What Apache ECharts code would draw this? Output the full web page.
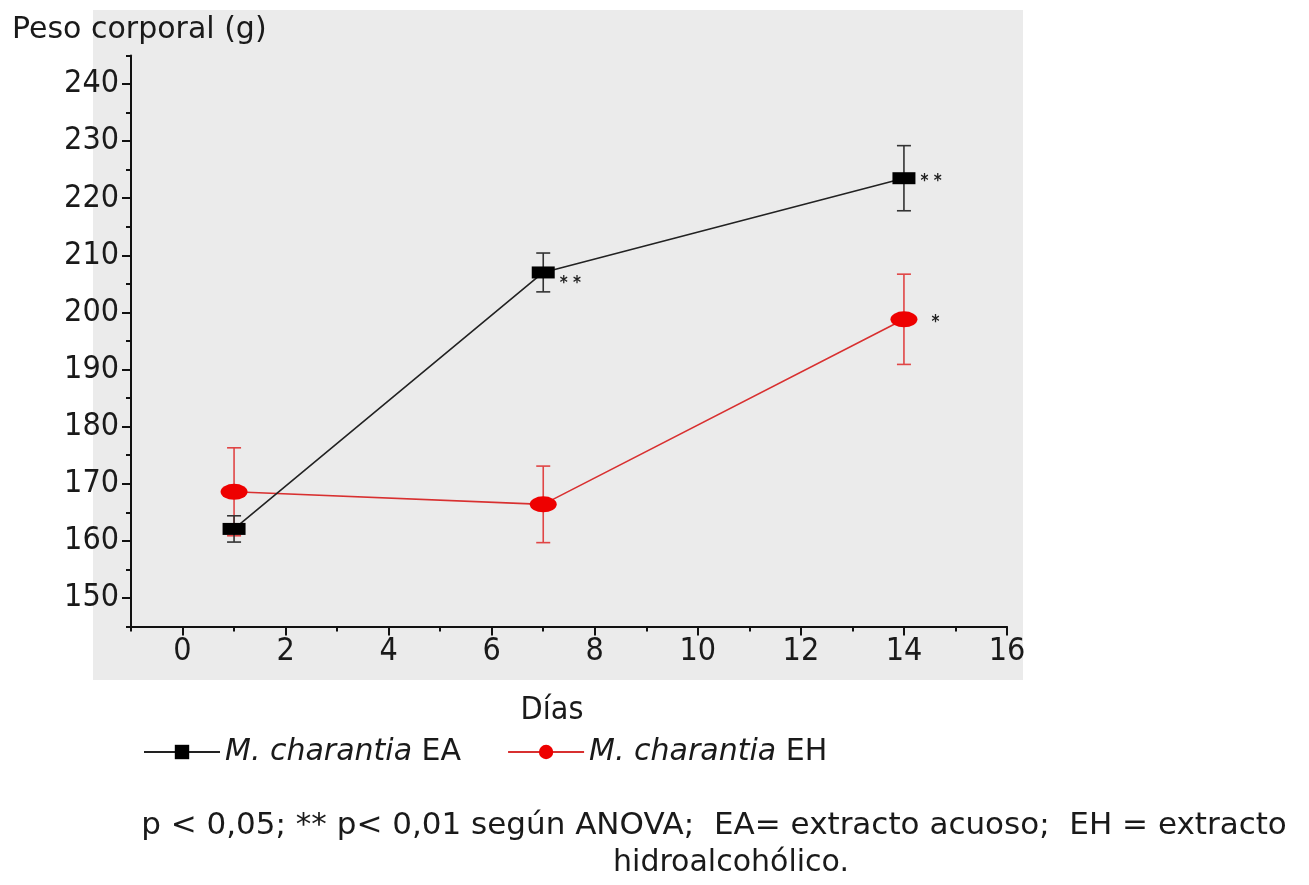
<!DOCTYPE html>
<html>
<head>
<meta charset="utf-8">
<script src="https://cdn.jsdelivr.net/npm/echarts@6/dist/echarts.min.js"></script>
<style>
html,body{margin:0;padding:0;background:#fff;}
#c{width:1309px;height:885px;}
</style>
</head>
<body>
<div id="c"></div>
<script>
// ---- data ----
const days = [1, 7, 14];
const eaMean = [162.1, 207.0, 223.5];
const eaErr = [2.3, 3.4, 5.7];
const ehMean = [168.6, 166.4, 198.8];
const ehErr = [7.7, 6.7, 7.9];
const eaSig = ['', '* *', '* *'];
const ehSig = ['', '', '*'];
const xMajor = [0, 2, 4, 6, 8, 10, 12, 14, 16];
const xMinor = [-1, 1, 3, 5, 7, 9, 11, 13, 15];
const yMajor = [150, 160, 170, 180, 190, 200, 210, 220, 230, 240];
const yMinor = [145, 155, 165, 175, 185, 195, 205, 215, 225, 235, 245];
const nameEA = 'M. charantia EA';
const nameEH = 'M. charantia EH';
const yTitle = 'Peso corporal (g)';
const xTitle = 'Días';
const note1 = 'p < 0,05; ** p< 0,01 según ANOVA;  EA= extracto acuoso;  EH = extracto';
const note2 = 'hidroalcohólico.';

const FONT = '"DejaVu Sans Condensed", "DejaVu Sans", sans-serif';
const WIDE = '"DejaVu Sans", sans-serif';
const chart = echarts.init(document.getElementById('c'), null, {renderer: 'canvas'});

function errSeries(means, errs, color) {
  return {
    type: 'custom',
    xAxisIndex: 0, yAxisIndex: 0,
    data: days.map((d, i) => [d, means[i] - errs[i], means[i] + errs[i]]),
    renderItem: function (params, api) {
      const lo = api.coord([api.value(0), api.value(1)]);
      const hi = api.coord([api.value(0), api.value(2)]);
      const hw = 7;
      const st = {stroke: color, lineWidth: 1.6};
      return {type: 'group', children: [
        {type: 'line', shape: {x1: lo[0], y1: lo[1], x2: hi[0], y2: hi[1]}, style: st},
        {type: 'line', shape: {x1: lo[0] - hw, y1: lo[1], x2: lo[0] + hw, y2: lo[1]}, style: st},
        {type: 'line', shape: {x1: hi[0] - hw, y1: hi[1], x2: hi[0] + hw, y2: hi[1]}, style: st}
      ]};
    },
    silent: true,
    z: 2
  };
}

const eaLabelOffsets = [[0, 0], [1, 11], [1, 3]];
const ehLabelOffsets = [[0, 0], [0, 0], [8, 3]];

function lineData(means, sigs, offs) {
  return days.map((d, i) => ({
    value: [d, means[i]],
    label: {show: !!sigs[i], formatter: sigs[i], offset: offs[i]}
  }));
}

const option = {
  animation: false,
  backgroundColor: '#ffffff',
  graphic: [
    {type: 'rect', z: -10, shape: {x: 93, y: 10, width: 930, height: 670}, style: {fill: '#ebebeb'}},
    {type: 'text', x: 12, y: 30, style: {text: yTitle, font: '30px ' + WIDE, fill: '#1a1a1a', textVerticalAlign: 'middle'}},
    {type: 'text', x: 552, y: 711, style: {text: xTitle, font: '32px ' + FONT, fill: '#1a1a1a', textAlign: 'center', textVerticalAlign: 'middle'}},
    {type: 'text', x: 714, y: 826, style: {text: note1, font: '31px ' + WIDE, fill: '#1a1a1a', textAlign: 'center', textVerticalAlign: 'middle'}},
    {type: 'text', x: 731, y: 863, style: {text: note2, font: '30px ' + WIDE, fill: '#1a1a1a', textAlign: 'center', textVerticalAlign: 'middle'}}
  ],
  grid: {left: 131, right: 302, top: 55.4, bottom: 258.4, containLabel: false},
  legend: {
    left: 138, top: 732,
    itemWidth: 76, itemHeight: 18, itemGap: 46,
    data: [nameEA, nameEH],
    formatter: function (n) { const p = n.split(' '); return '{i|' + p[0] + ' ' + p[1] + '} ' + p[2]; },
    textStyle: {
      fontFamily: WIDE, fontSize: 30, color: '#1a1a1a',
      rich: {i: {fontFamily: WIDE, fontSize: 30, fontStyle: 'italic', color: '#1a1a1a'}}
    }
  },
  xAxis: [
    {
      type: 'value', min: -1, max: 16,
      axisLine: {show: true, onZero: false, lineStyle: {color: '#111', width: 2}},
      axisTick: {show: true, inside: false, length: 9, customValues: xMajor, lineStyle: {color: '#111', width: 2}},
      axisLabel: {show: true, customValues: xMajor, margin: 9, fontFamily: FONT, fontSize: 32, color: '#1a1a1a'},
      splitLine: {show: false}
    },
    {
      type: 'value', min: -1, max: 16, position: 'bottom',
      axisLine: {show: false, onZero: false},
      axisTick: {show: true, length: 5, customValues: xMinor, lineStyle: {color: '#111', width: 2}},
      axisLabel: {show: false},
      splitLine: {show: false}
    }
  ],
  yAxis: [
    {
      type: 'value', min: 145, max: 245,
      axisLine: {show: true, onZero: false, lineStyle: {color: '#111', width: 2}},
      axisTick: {show: true, length: 9, customValues: yMajor, lineStyle: {color: '#111', width: 2}},
      axisLabel: {show: true, customValues: yMajor, margin: 12, fontFamily: FONT, fontSize: 32, color: '#1a1a1a'},
      splitLine: {show: false}
    },
    {
      type: 'value', min: 145, max: 245, position: 'left',
      axisLine: {show: false, onZero: false},
      axisTick: {show: true, length: 5, customValues: yMinor, lineStyle: {color: '#111', width: 2}},
      axisLabel: {show: false},
      splitLine: {show: false}
    }
  ],
  series: [
    errSeries(ehMean, ehErr, '#e04545'),
    {
      name: nameEH, type: 'line', xAxisIndex: 0, yAxisIndex: 0,
      data: lineData(ehMean, ehSig, ehLabelOffsets),
      symbol: 'path://M1,0A1,1,0,1,1,-1,0A1,1,0,1,1,1,0Z',
      symbolSize: [27, 16], symbolKeepAspect: false,
      itemStyle: {color: '#ee0000'},
      lineStyle: {color: '#d83030', width: 1.6},
      label: {position: 'right', distance: 6, color: '#222', fontSize: 17, fontWeight: 'bold', fontFamily: FONT},
      z: 3
    },
    errSeries(eaMean, eaErr, '#333333'),
    {
      name: nameEA, type: 'line', xAxisIndex: 0, yAxisIndex: 0,
      data: lineData(eaMean, eaSig, eaLabelOffsets),
      symbol: 'rect', symbolSize: [23, 12],
      itemStyle: {color: '#000000'},
      lineStyle: {color: '#222222', width: 1.6},
      label: {position: 'right', distance: 4, color: '#222', fontSize: 17, fontWeight: 'bold', fontFamily: FONT},
      z: 5
    }
  ]
};
chart.setOption(option);
</script>
</body>
</html>
